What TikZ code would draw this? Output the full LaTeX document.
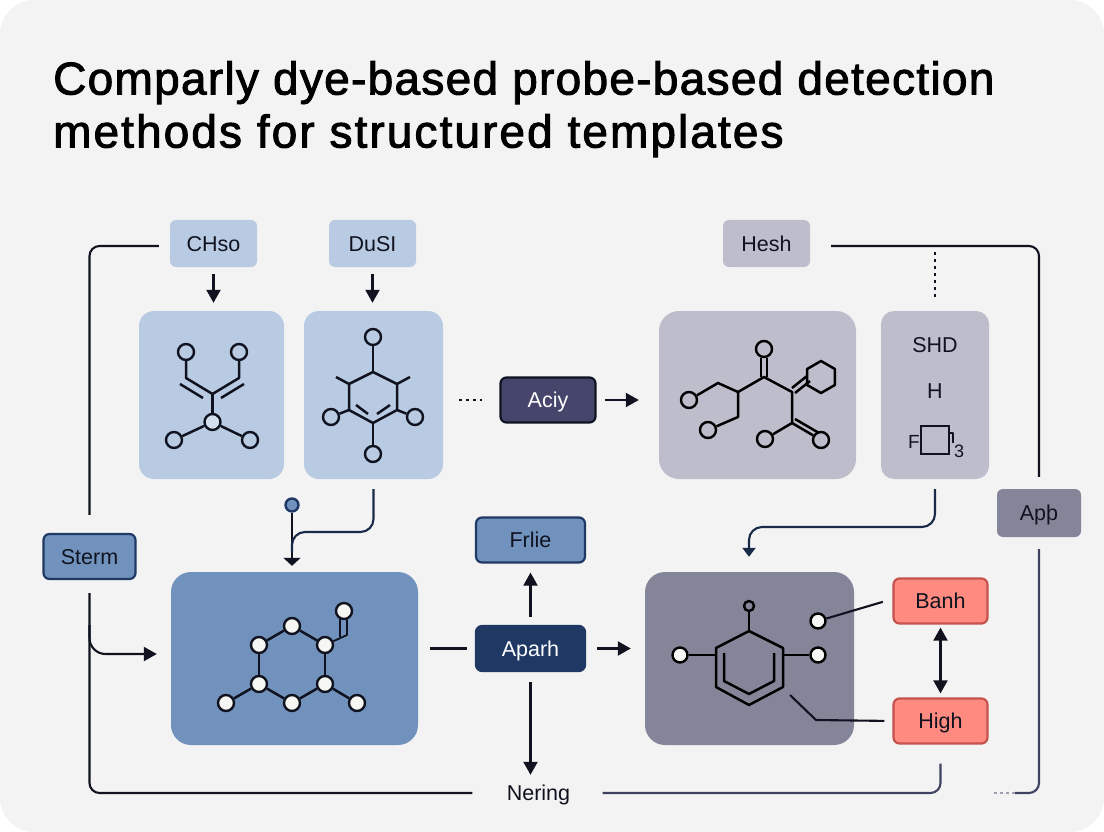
\documentclass[tikz,border=0pt]{standalone}
\usepackage{fontspec}
\setmainfont{Liberation Sans}
\newfontfamily\titlefont[FakeBold=2,LetterSpace=2.8]{Liberation Sans}
\newfontfamily\titlefontwide[FakeBold=2,LetterSpace=4.5]{Liberation Sans}
\usetikzlibrary{arrows.meta}
\definecolor{paleblue}{HTML}{B8CBE3}
\definecolor{midblue}{HTML}{7092BC}
\definecolor{paper}{HTML}{F3F3F4}
\definecolor{palegrey}{HTML}{BDBDCB}
\definecolor{midgrey}{HTML}{85859A}
\definecolor{navy}{HTML}{1F3864}
\definecolor{plum}{HTML}{46466C}
\definecolor{salmon}{HTML}{FF8A80}
\definecolor{brick}{HTML}{C4524E}
\definecolor{ink}{HTML}{10131F}
\definecolor{slate}{HTML}{3E4260}
\definecolor{pearl}{HTML}{F6F6F2}
\tikzset{
    lbl/.style={font=\fontsize{21.5}{24}\selectfont, text=ink},
    tag/.style={lbl, rectangle, rounded corners=6pt, minimum width=87pt, minimum height=47pt, inner sep=0pt, text height=17pt, text depth=1.6pt},
    keybox/.style={tag, draw=#1, line width=2.2pt, minimum width=109pt, minimum height=45pt},
    panel/.style={rectangle, rounded corners=15pt, inner sep=0pt},
    atom/.style={circle, draw=ink, line width=2.4pt, minimum size=16pt, inner sep=0pt},
    bond/.style={ink, line width=2.5pt, line join=round},
    wire/.style={ink, line width=2.1pt, rounded corners=13pt},
    flow/.style={wire, -{Triangle[length=13pt,width=14pt]}}
}
\begin{document}
\begin{tikzpicture}[x=1pt, y=-1pt]
    \useasboundingbox (0,0) rectangle (1104,832);
    \fill[paper, rounded corners=34pt] (0,0) rectangle (1104,832);

    \node[anchor=north west, inner sep=0pt, align=left, font=\fontsize{46}{53}\selectfont, text=black] (heading) at (53,61) {\titlefont Comparly dye-based probe-based detection\\\titlefontwide methods for structured templates};

    % top row
    \node[tag, fill=paleblue] (chso) at (213.5,243.5) {CHso};
    \node[tag, fill=paleblue, right of=chso, node distance=159pt] (dusi) {DuSI};
    \node[tag, fill=palegrey, right of=dusi, node distance=394pt] (hesh) {Hesh};

    \node[panel, fill=paleblue, minimum width=145pt, minimum height=168pt] (panelA) at (211.5,395) {};
    \node[panel, fill=paleblue, minimum width=139pt, minimum height=168pt, right of=panelA, node distance=162pt] (panelB) {};
    \node[panel, fill=palegrey, rounded corners=20pt, minimum width=197pt, minimum height=168pt, right of=panelB, node distance=384pt] (panelC) {};
    \node[panel, fill=palegrey, rounded corners=13pt, minimum width=108pt, minimum height=168pt, right of=panelC, node distance=177.5pt] (panelD) {};
    \node[tag, fill=plum, draw=ink, line width=2.2pt, minimum width=95pt, minimum height=45pt, text=white] (aciy) at (548,400) {Aciy};
    \node[tag, fill=midgrey, minimum width=84pt, minimum height=48pt] (apl) at (1039,513) {Apþ};

    % bottom row
    \node[keybox=navy, fill=midblue, minimum width=92pt] (sterm) at (89.5,556.5) {Sterm};
    \node[panel, fill=midblue, rounded corners=20pt, minimum width=247pt, minimum height=173pt] (panelE) at (294.5,658.5) {};
    \node[keybox=navy, fill=midblue] (frlie) at (530.5,540) {Frlie};
    \node[keybox=navy, fill=navy, text=white, below of=frlie, node distance=108.5pt] (aparh) {Aparh};
    \node[panel, fill=midgrey, rounded corners=20pt, minimum width=209pt, minimum height=173pt] (panelF) at (749.5,658.5) {};
    \node[keybox=brick, fill=salmon, minimum width=94pt] (banh) at (940.5,601) {Banh};
    \node[keybox=brick, fill=salmon, minimum width=94pt, below of=banh, node distance=120pt] (high) {High};
    \node[lbl, inner sep=0pt, minimum height=24pt, minimum width=66pt] (nering) at (538.5,795) {Nering};
    \node[atom, fill=midblue, draw=navy, minimum size=13pt] (dotA) at (292,505) {};

    % molecule in panelA
    \foreach \n/\x/\y in {a1/186/352, a2/239/352, a4/174/440, a5/250/440}
        \node[atom, fill=paleblue] (\n) at (\x,\y) {};
    \node[atom, fill=paleblue!60!white] (a3) at (212.5,422) {};
    \coordinate (aj) at (212.5,394);
    \draw[bond] (a1) -- (186,378) -- (aj) -- (239,378) -- (a2);
    \foreach \a/\b in {aj/a3, a3/a4, a3/a5}
        \draw[bond] (\a) -- (\b);
    \draw[bond] (180,384) -- (203,398);
    \draw[bond] (244,384) -- (221,398);

    % molecule in panelB
    \foreach \n/\x/\y in {b1/373/337, b2/331/417, b3/415/417, b4/373/454}
        \node[atom, fill=paleblue] (\n) at (\x,\y) {};
    \foreach \n/\x/\y in {bt/373/372, bu/397/384, bv/397/410, bw/373/423, bx/349/410, by/349/384}
        \coordinate (\n) at (\x,\y);
    \draw[bond] (bt) -- (bu) -- (bv) -- (bw) -- (bx) -- (by) -- cycle;
    \foreach \a/\b in {b1/bt, b2/bx, b3/bv, b4/bw}
        \draw[bond] (\a) -- (\b);
    \draw[bond] (by) -- (336,377);
    \draw[bond] (bu) -- (410,377);
    \draw[bond] (356,405) -- (368,414);
    \draw[bond] (390,405) -- (377,414);

    % molecule in panelC
    \foreach \n/\x/\y in {c1/764/349, c2/689/400, c3/708/430, c4/765/439, c5/821/440}
        \node[atom, draw=black, fill=palegrey] (\n) at (\x,\y) {};
    \foreach \n/\x/\y in {cc/764/377, cl/738/392, cm/718/383, cn/738/417, cr/792/392, cs/792/423}
        \coordinate (\n) at (\x,\y);
    \draw[bond, black] (c2) -- (cm) -- (cl) -- (cc) -- (cr) -- (cs) -- (c4);
    \draw[bond, black] (cl) -- (cn) -- (c3);
    \draw[bond, black, transform canvas={xshift=-3pt}] (c1) -- (cc);
    \draw[bond, black, transform canvas={xshift=3pt}] (c1) -- (cc);
    \draw[bond, black] (cs) -- (c5);
    \draw[bond, black] (795,419) -- (819,433);
    \draw[bond, black] (792,388) -- (807,376);
    \draw[bond, black] (795,393) -- (810,381);
    \draw[bond, black, shift={(821,377)}] (30:16) -- (90:16) -- (150:16) -- (210:16) -- (270:16) -- (330:16) -- cycle;

    % labels in panelD
    \node[lbl, inner sep=0pt] (shd) at (935,345) {SHD};
    \node[lbl, inner sep=0pt, below of=shd, node distance=46pt] (hval) {H};
    \node[draw=ink, line width=2.5pt, fill=palegrey, minimum width=28pt, minimum height=28pt, inner sep=0pt] (fbox) at (935,440) {};
    \node[lbl, inner sep=0pt, font=\fontsize{19}{20}\selectfont] (fval) at (914,442) {F};
    \node[lbl, inner sep=0pt, font=\fontsize{18}{20}\selectfont] (three) at (959,451) {3};
    \draw[bond] (fval.east) -- (fval.east -| fbox.west);
    \draw[bond] (949,433) -- (953,433) -- (953,443);

    % molecule in panelE
    \foreach \n/\x/\y in {e1/292/626, e2/259/645, e3/325/645, e4/259/684, e5/325/684, e6/292/703, e7/226/703, e8/357/703, e9/344/611}
        \node[atom, fill=pearl] (\n) at (\x,\y) {};
    \foreach \a/\b in {e1/e2, e1/e3, e2/e4, e3/e5, e4/e6, e5/e6, e4/e7, e5/e8}
        \draw[bond] (\a) -- (\b);
    \draw[bond, line width=1.8pt] (e3) -- (347,635) -- (347,618);
    \draw[bond, line width=1.8pt] (340,637) -- (340,618);

    % molecule in panelF
    \foreach \n/\x/\y in {f2/680/655, f3/818/655, f4/818/621}
        \node[atom, draw=black, fill=pearl, minimum size=15pt] (\n) at (\x,\y) {};
    \node[atom, draw=black, fill=midgrey, minimum size=10pt] (f1) at (749,606) {};
    \foreach \n/\x/\y in {ft/749/631, fu/783/648, fv/783/687, fw/749/705, fx/716/687, fy/716/648}
        \coordinate (\n) at (\x,\y);
    \draw[bond, black] (ft) -- (fu) -- (fv) -- (fw) -- (fx) -- (fy) -- cycle;
    \draw[bond, black] (724,653) -- (724,681) -- (749,694) -- (774,681) -- (774,653);
    \draw[bond, black] (f1) -- (ft);
    \draw[bond, black] (f2) -- (f2 -| fy);
    \draw[bond, black] (f3) -- (f3 -| fu);

    % connectors
    \coordinate (stermjoin) at (89.5,625);
    \coordinate (joinA) at (292,532);
    \coordinate (joinB) at (749,527);
    \coordinate (dotsA) at (459,400);
    \coordinate (dotsD) at (935,252);
    \coordinate (bendF) at (816,720);
    \coordinate (hookF) at (790,695);
    \coordinate (wireEnd) at (1015,793);
    \coordinate (wireFade) at (992,793);

    \draw[flow, shorten <=7pt, shorten >=8pt] (chso.south) -- (chso.south |- panelA.north);
    \draw[flow, shorten <=7pt, shorten >=8pt] (dusi.south) -- (dusi.south |- panelB.north);
    \draw[wire, rounded corners=10pt, shorten <=11pt, shorten >=18pt] ([yshift=-2.5pt]chso.west) -| (sterm.north);
    \draw[wire, rounded corners=10pt, shorten <=21pt, shorten >=12pt] ([yshift=-2.5pt]hesh.east) -| (apl.north);
    \draw[wire, slate, rounded corners=10pt, shorten <=12pt] (apl.south) |- (wireEnd);
    \draw[slate!50, line width=1.5pt, dash pattern=on 3pt off 3pt] (wireEnd) -- (wireFade);
    \draw[ink, line width=2.6pt, dash pattern=on 2.6pt off 4.4pt, shorten <=14pt] (panelD.north -| dotsD) -- (dotsD);
    \draw[ink, line width=2.4pt, dash pattern=on 2.5pt off 4.6pt, shorten >=17pt] (dotsA) -- (aciy.west);
    \draw[flow, shorten <=8pt, shorten >=20pt] (aciy.east) -- (aciy.east -| panelC.west);
    \draw[wire, rounded corners=10pt, shorten <=13pt, shorten >=33pt] (sterm.south) |- ([yshift=2pt]nering.west);
    \draw[flow, shorten >=14pt, rounded corners=16pt] (stermjoin) |- ([yshift=4.5pt]panelE.west);
    \draw[wire, -{Triangle[length=8pt,width=17pt]}, shorten <=0pt, shorten >=6pt] (dotA) -- (dotA |- panelE.north);
    \draw[wire, navy!60!ink, shorten <=10pt] (panelB.south) |- (joinA) -- (292,552);
    \draw[wire, shorten <=12pt, shorten >=8pt] (aparh.west -| panelE.east) -- (aparh.west);
    \draw[flow, shorten <=8pt, shorten >=9pt] (aparh.north) -- (frlie.south);
    \draw[flow, shorten <=10pt, shorten >=8pt] (aparh.south) -- (aparh.south |- nering.north);
    \draw[flow, shorten <=11pt, shorten >=14pt] (aparh.east) -- (aparh.east -| panelF.west);
    \draw[flow, navy!60!ink, shorten <=10pt, shorten >=15pt, -{Triangle[length=9pt,width=13pt]}] (panelD.south) |- (joinB) -- (joinB |- panelF.north);
    \draw[wire, shorten >=10pt] (f4) -- ([yshift=2pt]banh.west);
    \draw[wire, rounded corners=0pt, shorten >=8pt] (hookF) -- (bendF) -- (high.west);
    \draw[wire, {Triangle[length=13pt,width=14pt]}-{Triangle[length=13pt,width=14pt]}, shorten <=3pt, shorten >=4pt] (banh.south) -- (high.north);
    \draw[wire, slate, rounded corners=10pt, shorten <=31pt, shorten >=19pt] ([yshift=2pt]nering.east) -| (high.south);
\end{tikzpicture}
\end{document}
